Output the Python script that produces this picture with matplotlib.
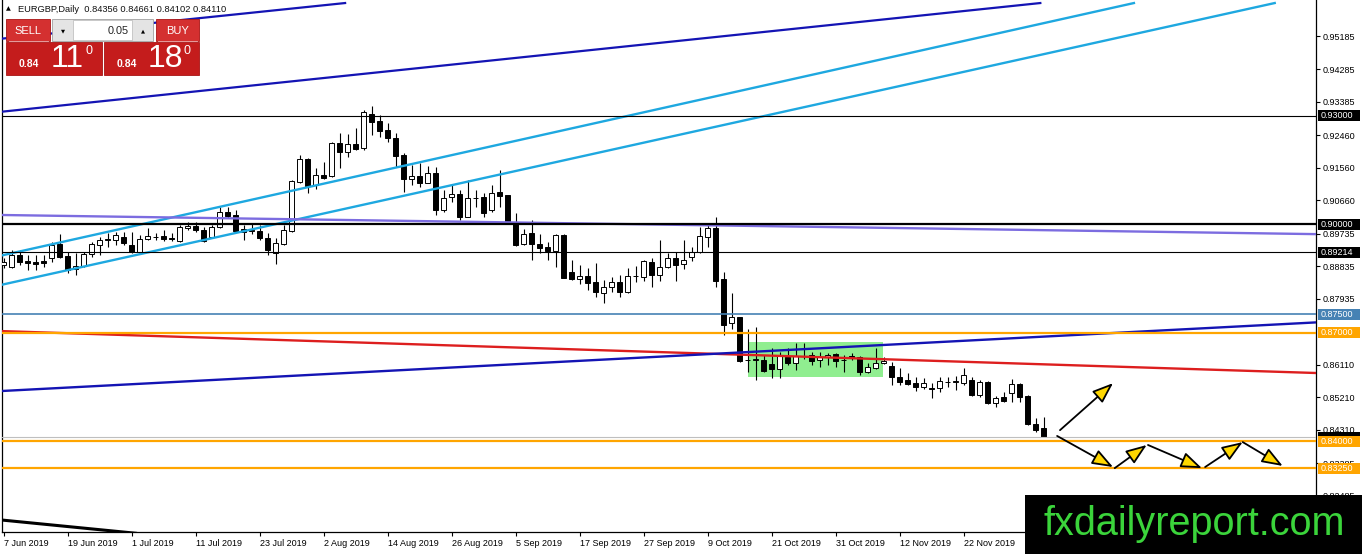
import matplotlib
matplotlib.use('Agg')
import matplotlib.pyplot as plt
from matplotlib.patches import Rectangle
import matplotlib.transforms as mtransforms

plt.rcParams['font.family'] = ['Liberation Sans', 'DejaVu Sans']

# ---------------- data ----------------
opens = [0.8887, 0.8881, 0.8914, 0.8898, 0.8895, 0.8898, 0.8906, 0.8945, 0.8912, 0.8876,
         0.8884, 0.8917, 0.8942, 0.8956, 0.8956, 0.8964, 0.8942, 0.8923, 0.8959, 0.8964,
         0.8967, 0.8961, 0.8953, 0.8989, 0.8994, 0.8983, 0.8964, 0.8992, 0.9033, 0.9025,
         0.8986, 0.8981, 0.8981, 0.8961, 0.8920, 0.8945, 0.8981, 0.9116, 0.9180, 0.9108,
         0.9135, 0.9133, 0.9224, 0.9199, 0.9221, 0.9210, 0.9304, 0.9285, 0.9260, 0.9238,
         0.9191, 0.9124, 0.9133, 0.9113, 0.9141, 0.9039, 0.9075, 0.9083, 0.9019, 0.9072,
         0.9075, 0.9039, 0.9088, 0.9080, 0.9006, 0.8945, 0.8975, 0.8945, 0.8936, 0.8925,
         0.8970, 0.8867, 0.8848, 0.8856, 0.8840, 0.8809, 0.8826, 0.8840, 0.8812, 0.8856,
         0.8853, 0.8895, 0.8859, 0.8881, 0.8906, 0.8889, 0.8909, 0.8923, 0.8964, 0.8989,
         0.8848, 0.8726, 0.8743, 0.8624, 0.8624, 0.8624, 0.8613, 0.8599, 0.8632, 0.8616,
         0.8635, 0.8638, 0.8624, 0.8632, 0.8641, 0.8624, 0.8635, 0.8632, 0.8591, 0.8602,
         0.8616, 0.8607, 0.8577, 0.8569, 0.8560, 0.8549, 0.8547, 0.8547, 0.8563, 0.8563,
         0.8560, 0.8569, 0.8527, 0.8563, 0.8505, 0.8522, 0.8533, 0.8558, 0.8524, 0.8447,
         0.84356]
highs = [0.8906, 0.8928, 0.8928, 0.8914, 0.8914, 0.8914, 0.8950, 0.8972, 0.8923, 0.8920,
         0.8923, 0.8950, 0.8964, 0.8975, 0.8978, 0.8978, 0.8978, 0.8970, 0.8989, 0.8975,
         0.8983, 0.8975, 0.8997, 0.9006, 0.9006, 0.8992, 0.8997, 0.9047, 0.9047, 0.9039,
         0.8997, 0.9000, 0.8997, 0.8975, 0.8961, 0.8997, 0.9122, 0.9191, 0.9182, 0.9155,
         0.9171, 0.9227, 0.9252, 0.9249, 0.9265, 0.9315, 0.9326, 0.9301, 0.9279, 0.9252,
         0.9196, 0.9163, 0.9169, 0.9160, 0.9158, 0.9094, 0.9108, 0.9094, 0.9122, 0.9094,
         0.9086, 0.9108, 0.9149, 0.9080, 0.9030, 0.8986, 0.9011, 0.8972, 0.8950, 0.8972,
         0.8972, 0.8900, 0.8887, 0.8878, 0.8892, 0.8845, 0.8853, 0.8859, 0.8878, 0.8884,
         0.8900, 0.8906, 0.8956, 0.8920, 0.8923, 0.8956, 0.8936, 0.8992, 0.8997, 0.9019,
         0.8867, 0.8809, 0.8743, 0.8710, 0.8715, 0.8638, 0.8657, 0.8646, 0.8657, 0.8671,
         0.8671, 0.8646, 0.8646, 0.8643, 0.8643, 0.8638, 0.8643, 0.8635, 0.8616, 0.8657,
         0.8632, 0.8618, 0.8602, 0.8588, 0.8577, 0.8574, 0.8560, 0.8577, 0.8577, 0.8580,
         0.8602, 0.8577, 0.8569, 0.8566, 0.8524, 0.8536, 0.8571, 0.8560, 0.8527, 0.8464,
         0.84661]
lows = [0.8878, 0.8878, 0.8887, 0.8873, 0.8873, 0.8881, 0.8895, 0.8906, 0.8865, 0.8859,
        0.8881, 0.8909, 0.8914, 0.8936, 0.8942, 0.8942, 0.8920, 0.8920, 0.8956, 0.8956,
        0.8953, 0.8953, 0.8950, 0.8983, 0.8978, 0.8950, 0.8961, 0.8989, 0.9017, 0.8978,
        0.8956, 0.8972, 0.8956, 0.8914, 0.8889, 0.8942, 0.8978, 0.9113, 0.9086, 0.9097,
        0.9124, 0.9130, 0.9155, 0.9185, 0.9205, 0.9205, 0.9246, 0.9241, 0.9227, 0.9158,
        0.9088, 0.9108, 0.9102, 0.9113, 0.9025, 0.9033, 0.9061, 0.9011, 0.9019, 0.9047,
        0.9019, 0.9033, 0.9047, 0.9003, 0.8939, 0.8942, 0.8900, 0.8920, 0.8900, 0.8881,
        0.8851, 0.8845, 0.8834, 0.8818, 0.8798, 0.8782, 0.8812, 0.8798, 0.8809, 0.8840,
        0.8842, 0.8826, 0.8842, 0.8878, 0.8842, 0.8876, 0.8898, 0.8920, 0.8936, 0.8826,
        0.8693, 0.8710, 0.8618, 0.8591, 0.8569, 0.8591, 0.8574, 0.8574, 0.8610, 0.8596,
        0.8627, 0.8610, 0.8605, 0.8610, 0.8605, 0.8591, 0.8624, 0.8582, 0.8588, 0.8599,
        0.8613, 0.8555, 0.8555, 0.8555, 0.8538, 0.8544, 0.8519, 0.8536, 0.8549, 0.8541,
        0.8555, 0.8524, 0.8522, 0.8503, 0.8494, 0.8508, 0.8508, 0.8508, 0.8445, 0.8425,
        0.84102]
closes = [0.8895, 0.8914, 0.8895, 0.8892, 0.8889, 0.8892, 0.8942, 0.8909, 0.8873, 0.8884,
          0.8917, 0.8945, 0.8956, 0.8959, 0.8970, 0.8947, 0.8923, 0.8959, 0.8967, 0.8964,
          0.8959, 0.8959, 0.8992, 0.8994, 0.8983, 0.8953, 0.8992, 0.9033, 0.9022, 0.8981,
          0.8978, 0.8983, 0.8961, 0.8928, 0.8947, 0.8983, 0.9119, 0.9180, 0.9105, 0.9135,
          0.9127, 0.9224, 0.9199, 0.9221, 0.9207, 0.9310, 0.9282, 0.9257, 0.9238, 0.9188,
          0.9124, 0.9133, 0.9113, 0.9141, 0.9039, 0.9072, 0.9083, 0.9019, 0.9072, 0.9072,
          0.9030, 0.9086, 0.9077, 0.9006, 0.8942, 0.8972, 0.8945, 0.8934, 0.8925, 0.8970,
          0.8851, 0.8848, 0.8856, 0.8837, 0.8812, 0.8826, 0.8840, 0.8812, 0.8856, 0.8856,
          0.8898, 0.8859, 0.8881, 0.8906, 0.8887, 0.8900, 0.8923, 0.8967, 0.8989, 0.8842,
          0.8721, 0.8743, 0.8621, 0.8624, 0.8627, 0.8594, 0.8599, 0.8638, 0.8616, 0.8635,
          0.8635, 0.8621, 0.8632, 0.8638, 0.8621, 0.8624, 0.8630, 0.8591, 0.8605, 0.8616,
          0.8621, 0.8577, 0.8563, 0.8558, 0.8549, 0.8560, 0.8544, 0.8566, 0.8563, 0.8566,
          0.8582, 0.8527, 0.8563, 0.8505, 0.8519, 0.8511, 0.8558, 0.8522, 0.8447, 0.8430,
          0.84110]

date_tick_idx = [0, 8, 16, 24, 32, 40, 48, 56, 64, 72, 80, 88, 96, 104, 112, 120]
date_labels = ['7 Jun 2019', '19 Jun 2019', '1 Jul 2019', '11 Jul 2019', '23 Jul 2019',
               '2 Aug 2019', '14 Aug 2019', '26 Aug 2019', '5 Sep 2019', '17 Sep 2019',
               '27 Sep 2019', '9 Oct 2019', '21 Oct 2019', '31 Oct 2019', '12 Nov 2019',
               '22 Nov 2019']
price_ticks = [0.95185, 0.94285, 0.93385, 0.92460, 0.91560, 0.90660, 0.89735, 0.88835,
               0.87935, 0.86110, 0.85210, 0.84310, 0.83385, 0.82485]

# horizontal levels
black_levels = [0.93000, 0.90000, 0.89214]
black_widths = [0.8, 1.6, 0.8]
steel_level = 0.87500
orange_levels = [0.87000, 0.84000, 0.83250]
bid_price = 0.84110

# trendlines (bar index, price)
line_top_x, line_top_p = [-0.44, 42.7], [0.9512, 0.9611]
line_mid_x, line_mid_p = [-0.44, 129.6], [0.9310, 0.9611]
cyan_up_x, cyan_up_p = [-0.44, 141.3], [0.8912, 0.9611]
cyan_lo_x, cyan_lo_p = [-0.44, 158.9], [0.8831, 0.9611]
purple_x, purple_p = [-0.44, 164.1], [0.9025, 0.8972]
red_x, red_p = [-0.44, 164.1], [0.8704, 0.8588]
blue_lo_x, blue_lo_p = [-0.44, 164.1], [0.8538, 0.8728]
black_bl_x, black_bl_p = [-0.44, 16.5], [0.8182, 0.8145]

rect_x = [93.0, 109.9]
rect_p = [0.8577, 0.8674]

arrow_from = [(132.06, 0.8430), (131.7, 0.8414), (138.9, 0.8325), (143.06, 0.8389),
              (150.2, 0.8328), (154.9, 0.8397)]
arrow_to = [(138.69, 0.8560), (138.69, 0.8328), (142.9, 0.8389), (149.8, 0.8325),
            (154.9, 0.8397), (159.9, 0.8331)]

# ---------------- figure ----------------
W, H = 1362, 554
fig = plt.figure(figsize=(W / 100, H / 100), dpi=100)
fig.patch.set_facecolor('white')
ax = fig.add_axes([2 / W, 22 / H, 1314 / W, 532 / H])
ax.set_xlim(-0.1875, 164.06)
ax.set_ylim(0.81484, 0.96194)
ax.set_facecolor('white')

ax.add_patch(Rectangle((rect_x[0], rect_p[0]), rect_x[1] - rect_x[0], rect_p[1] - rect_p[0],
                       facecolor='#90EE90', edgecolor='none', zorder=1))

# candles
idx = list(range(len(opens)))
ax.vlines(idx, lows, highs, colors='black', linewidth=0.8, zorder=2.5)
bottoms = [min(o, c) for o, c in zip(opens, closes)]
heights = [abs(c - o) for o, c in zip(opens, closes)]
fills = ['white' if c > o else 'black' for o, c in zip(opens, closes)]
ax.bar(idx, heights, bottom=bottoms, width=0.62, color=fills, edgecolor='black',
       linewidth=0.7, zorder=3)

# trendlines
ax.plot(line_top_x, line_top_p, color='#1414B4', lw=1.6, zorder=4)
ax.plot(line_mid_x, line_mid_p, color='#1414B4', lw=1.6, zorder=4)
ax.plot(cyan_up_x, cyan_up_p, color='#1EA8E0', lw=1.7, zorder=4)
ax.plot(cyan_lo_x, cyan_lo_p, color='#1EA8E0', lw=1.7, zorder=4)
ax.plot(purple_x, purple_p, color='#7C6CE0', lw=1.7, zorder=4)
ax.plot(red_x, red_p, color='#DD1E1E', lw=1.7, zorder=4)
ax.plot(blue_lo_x, blue_lo_p, color='#1414B4', lw=1.7, zorder=4)
ax.plot(black_bl_x, black_bl_p, color='black', lw=2.2, zorder=4)

# horizontal levels
ax.axhline(bid_price, color='#BFBFBF', lw=0.8, zorder=3.5)
for p, w in zip(black_levels, black_widths):
    ax.axhline(p, color='black', lw=w, zorder=4)
ax.axhline(steel_level, color='#4682B4', lw=1.2, zorder=4)
for p in orange_levels:
    ax.axhline(p, color='#FFA500', lw=1.6, zorder=4)

# arrows
for s, e in zip(arrow_from, arrow_to):
    ax.annotate('', xy=e, xytext=s,
                arrowprops=dict(arrowstyle='-|>,head_length=0.8,head_width=0.3',
                                mutation_scale=16, fc='#FFD700', ec='black', lw=1.3,
                                shrinkA=0, shrinkB=0), zorder=5)

# axes styling
ax.spines['top'].set_visible(False)
for side in ['left', 'bottom', 'right']:
    ax.spines[side].set_linewidth(0.9)
    ax.spines[side].set_color('black')
ax.yaxis.tick_right()
ax.set_yticks(price_ticks)
ax.set_yticklabels([f'{p:.5f}' for p in price_ticks])
ax.tick_params(axis='y', direction='out', length=3, width=0.8, pad=2, labelsize=6.5,
               left=False, right=True)
ax.set_xticks(date_tick_idx)
ax.set_xticklabels(date_labels)
ax.tick_params(axis='x', direction='out', length=3, width=0.8, pad=2, labelsize=6.5)
for t in ax.get_xticklabels():
    t.set_ha('left')

# price label boxes on the right axis
trans = mtransforms.blended_transform_factory(ax.transAxes, ax.transData)
px_y = 0.0002765
box_x0 = 1 + 2 / 1314
box_w = 42 / 1314
box_h = 11 * px_y

def price_box(p, fc, label=True):
    ax.add_patch(Rectangle((box_x0, p - box_h / 2), box_w, box_h, transform=trans,
                           fc=fc, ec='none', clip_on=False, zorder=9))
    if label:
        ax.text(box_x0 + 3 / 1314, p, f'{p:.5f}', transform=trans, ha='left', va='center',
                fontsize=6.5, color='white', clip_on=False, zorder=10)

for p in black_levels:
    price_box(p, 'black')
price_box(steel_level, '#4682B4')
price_box(orange_levels[0], '#FFA500')
price_box(bid_price, 'black', label=False)
price_box(orange_levels[1], '#FFA500')
price_box(orange_levels[2], '#FFA500')

# ---------------- overlay (terminal panel, watermark) ----------------
ov = fig.add_axes([0, 0, 1, 1])
ov.set_xlim(0, W)
ov.set_ylim(H, 0)
ov.axis('off')
ov.patch.set_alpha(0)

ov.text(6, 9, '\u25B2', fontsize=4.5, va='center', ha='left', family=['DejaVu Sans'])
ov.text(18, 9, 'EURGBP,Daily  0.84356 0.84661 0.84102 0.84110', fontsize=6.7,
        va='center', ha='left', color='#111111')

red_top = '#D43030'
red_bot = '#C41C1C'
ov.add_patch(Rectangle((6, 19), 44, 22, fc=red_top, ec='#A81414', lw=0.6))
ov.add_patch(Rectangle((156, 19), 43, 22, fc=red_top, ec='#A81414', lw=0.6))
ov.text(28, 30.5, 'SELL', color='white', fontsize=8, ha='center', va='center')
ov.text(177.5, 30.5, 'BUY', color='white', fontsize=8, ha='center', va='center')
ov.plot([9, 48], [41, 41], color='#F0B0B0', lw=0.6)
ov.plot([158, 197], [41, 41], color='#F0B0B0', lw=0.6)
ov.add_patch(Rectangle((52, 19), 101, 22, fc='#E4E4E4', ec='#A0A0A0', lw=0.6))
ov.add_patch(Rectangle((73, 20), 59, 20, fc='white', ec='#B8B8B8', lw=0.5))
ov.text(129, 30.5, '0.05', fontsize=7.8, ha='right', va='center', color='#222222')
ov.text(62.5, 30.5, '\u25BC', fontsize=3.8, ha='center', va='center', family=['DejaVu Sans'])
ov.text(142.5, 30.5, '\u25B2', fontsize=3.8, ha='center', va='center', family=['DejaVu Sans'])
ov.add_patch(Rectangle((6, 42), 96, 33, fc=red_bot, ec='#A81414', lw=0.6))
ov.add_patch(Rectangle((104, 42), 95, 33, fc=red_bot, ec='#A81414', lw=0.6))
ov.text(29, 64, '0.84', color='white', fontsize=7.5, fontweight='bold', ha='center', va='center')
ov.text(67, 59, '11', color='white', fontsize=23, ha='center', va='center')
ov.text(89, 51, '0', color='white', fontsize=9, ha='center', va='center')
ov.text(127, 64, '0.84', color='white', fontsize=7.5, fontweight='bold', ha='center', va='center')
ov.text(165, 59, '18', color='white', fontsize=23, ha='center', va='center')
ov.text(187, 51, '0', color='white', fontsize=9, ha='center', va='center')

# watermark
ov.add_patch(Rectangle((1025, 495), W - 1025, H - 495, fc='black', ec='none', zorder=20))
ov.text(1194, 524, 'fxdailyreport.com', color='#3BD43B', fontsize=28.5, ha='center',
        va='center', zorder=21)

fig.savefig('out.png', dpi=100, facecolor='white')
